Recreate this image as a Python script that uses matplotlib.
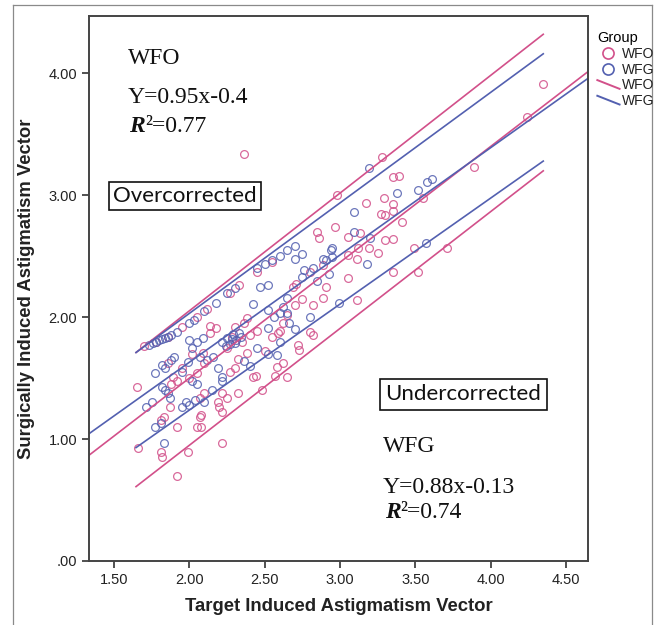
import matplotlib
matplotlib.use("Agg")
import matplotlib.pyplot as plt
from matplotlib.lines import Line2D
from matplotlib.legend_handler import HandlerBase
from matplotlib import font_manager
import numpy as np

# ---------------- data ----------------
wfo_x = [2.36, 4.35, 4.24, 3.89, 3.28, 3.35, 3.39, 3.55, 2.98, 3.17, 3.29, 3.35,
         3.27, 3.30, 3.35, 3.41, 2.85, 2.86, 2.97, 3.05, 3.13, 3.30, 3.35, 3.49,
         3.12, 3.19, 3.11, 3.25, 3.05, 2.89, 2.80, 3.05, 3.35, 2.91, 2.89, 3.11,
         2.82, 2.69, 2.71, 2.80, 2.82, 2.72, 2.60, 3.71, 3.52,
         1.65, 1.89, 1.92, 1.87, 1.81, 1.83, 1.92, 1.66, 1.81, 1.82, 1.92, 1.99,
         2.05, 2.08, 2.07, 2.10, 2.05, 2.02, 2.09, 2.14, 2.18, 2.14, 2.32, 2.38,
         2.42, 2.22, 2.25, 2.19, 2.20, 2.22, 2.32, 2.22, 2.07, 2.08, 2.36, 2.38,
         2.45, 2.55, 2.59, 2.62, 2.58, 2.62, 2.57, 2.65, 2.48,
         1.70, 1.78, 1.86, 1.95, 2.05, 2.12, 2.27, 2.33, 2.45, 2.55,
         1.86, 1.88, 1.95, 2.00, 2.10, 2.25, 2.28, 2.30, 2.35, 2.40, 2.30, 2.27,
         2.50, 2.65, 2.70, 2.75, 2.73, 2.44]
wfo_y = [3.34, 3.91, 3.64, 3.23, 3.31, 3.15, 3.16, 2.98, 3.00, 2.94, 2.98, 2.93,
         2.85, 2.84, 2.87, 2.78, 2.70, 2.65, 2.74, 2.66, 2.69, 2.63, 2.64, 2.57,
         2.57, 2.57, 2.48, 2.53, 2.51, 2.43, 2.37, 2.32, 2.37, 2.25, 2.16, 2.14,
         2.10, 2.25, 2.27, 1.88, 1.85, 1.77, 1.89, 2.57, 2.37,
         1.43, 1.51, 1.48, 1.26, 1.16, 1.18, 1.10, 0.93, 0.89, 0.85, 0.70, 0.89,
         1.10, 1.20, 1.34, 1.38, 1.54, 1.70, 1.71, 1.93, 1.91, 1.87, 1.66, 1.71,
         1.51, 1.38, 1.34, 1.30, 1.26, 1.22, 1.38, 0.97, 1.18, 1.10, 1.95, 1.99,
         1.89, 1.84, 1.87, 1.95, 1.59, 1.62, 1.52, 1.51, 1.40,
         1.76, 1.80, 1.84, 1.92, 2.00, 2.07, 2.20, 2.26, 2.37, 2.45,
         1.62, 1.45, 1.58, 1.50, 1.62, 1.75, 1.84, 1.92, 1.80, 1.85, 1.58, 1.55,
         1.72, 2.02, 2.10, 2.15, 1.73, 1.52]

wfg_x = [3.19, 3.58, 3.61, 3.52, 3.38, 3.09, 3.09, 3.20, 3.57, 2.95, 2.94, 2.75,
         2.70, 3.18, 2.89, 2.91, 2.95, 2.82, 2.76, 2.75, 2.99, 2.65, 2.62, 2.65,
         2.66,
         1.82, 1.84, 1.88, 1.90, 1.77, 1.82, 1.84, 1.87, 1.86, 1.71, 1.75, 1.77,
         1.81, 1.83, 1.95, 1.98, 2.00, 2.04, 2.02, 1.99, 2.07, 2.12, 2.00, 2.05,
         2.09, 2.02, 2.16, 2.19, 2.22, 2.22,
         2.22, 2.25, 2.27, 2.29, 2.31, 2.33, 2.24, 2.28, 2.30, 2.34, 2.36,
         2.42, 2.47, 2.52, 2.52, 2.56, 2.60, 2.52, 2.52, 2.58,
         1.73, 1.76, 1.78, 1.80, 1.82, 1.84, 1.86, 1.88, 1.92, 2.00, 2.03, 2.10,
         2.18, 2.25, 2.30, 2.45, 2.50, 2.55, 2.60, 2.65, 2.70,
         1.95, 2.05, 2.15, 2.10, 2.40, 2.45, 2.60, 2.70, 2.80, 2.85, 2.93]
wfg_y = [3.22, 3.11, 3.13, 3.04, 3.02, 2.86, 2.70, 2.65, 2.61, 2.57, 2.55, 2.52,
         2.48, 2.44, 2.48, 2.47, 2.49, 2.40, 2.39, 2.33, 2.12, 2.16, 2.08, 2.03,
         1.95,
         1.61, 1.58, 1.65, 1.67, 1.54, 1.43, 1.40, 1.34, 1.38, 1.26, 1.30, 1.10,
         1.13, 0.97, 1.26, 1.30, 1.28, 1.32, 1.48, 1.63, 1.67, 1.65, 1.81, 1.80,
         1.83, 1.75, 1.67, 1.58, 1.51, 1.48,
         1.80, 1.83, 1.78, 1.86, 1.81, 1.87, 1.76, 1.82, 1.79, 1.84, 1.64,
         2.11, 2.25, 2.26, 2.06, 2.00, 2.03, 1.91, 1.70, 1.69,
         1.77, 1.79, 1.80, 1.81, 1.82, 1.83, 1.84, 1.85, 1.88, 1.95, 1.98, 2.05,
         2.12, 2.20, 2.24, 2.40, 2.44, 2.47, 2.50, 2.55, 2.58,
         1.55, 1.45, 1.40, 1.30, 1.60, 1.75, 1.80, 1.90, 2.00, 2.30, 2.35]

# fit lines: slope, intercept
wfo_fit = (0.95, -0.40)
wfg_fit = (0.88, -0.13)
# interval lines (x ends, y ends)
band_x = [1.646, 4.349]
wfo_upper = [1.71, 4.32]
wfo_lower = [0.61, 3.20]
wfg_upper = [1.71, 4.16]
wfg_lower = [0.93, 3.28]

x_ticks = [1.5, 2.0, 2.5, 3.0, 3.5, 4.0, 4.5]
y_ticks = [0, 1, 2, 3, 4]

PINK = "#D2508A"
BLUE = "#5360B0"

# ---------------- fonts ----------------
def has_font(name):
    try:
        font_manager.findfont(font_manager.FontProperties(family=name), fallback_to_default=False)
        return True
    except Exception:
        return False

NARROW = "Liberation Sans Narrow" if has_font("Liberation Sans Narrow") else "Liberation Sans"
SERIF = "Liberation Serif"
BOXF = "Lato"

W, H = 661, 625
fig = plt.figure(figsize=(W / 100, H / 100), dpi=100)
ax = fig.add_axes([89 / W, 1 - 561 / H, (588 - 89) / W, (561 - 16) / H])
ax.set_xlim(1.334, 4.646)
ax.set_ylim(0, 4.47)

ms = 5.6
ax.plot(wfo_x, wfo_y, ls="none", marker="o", ms=ms, mfc="none", mec=PINK, mew=0.9, alpha=0.85)
ax.plot(wfg_x, wfg_y, ls="none", marker="o", ms=ms, mfc="none", mec=BLUE, mew=0.9, alpha=0.85)

lw = 1.2
ax.axline((0, wfo_fit[1]), slope=wfo_fit[0], color=PINK, lw=lw)
ax.axline((0, wfg_fit[1]), slope=wfg_fit[0], color=BLUE, lw=lw)
ax.plot(band_x, wfo_upper, color=PINK, lw=lw)
ax.plot(band_x, wfo_lower, color=PINK, lw=lw)
ax.plot(band_x, wfg_upper, color=BLUE, lw=lw)
ax.plot(band_x, wfg_lower, color=BLUE, lw=lw)

# ticks / spines
ax.set_xticks(x_ticks)
ax.set_xticklabels([f"{v:.2f}" for v in x_ticks])
ax.set_yticks(y_ticks)
ax.set_yticklabels([f"{v:.2f}".lstrip("0") if v == 0 else f"{v:.2f}" for v in y_ticks])
ax.tick_params(direction="out", length=5, width=1.2, color="#333333", labelsize=10.5,
               labelcolor="#222222")
for lab in ax.get_xticklabels() + ax.get_yticklabels():
    lab.set_family(NARROW)
for sp in ax.spines.values():
    sp.set_linewidth(1.4)
    sp.set_color("#444444")

ax.set_xlabel("Target Induced Astigmatism Vector", family=NARROW, fontweight="bold",
              fontsize=13.3, color="#222222", labelpad=8)
ax.set_ylabel("Surgically Induced Astigmatism Vector", family=NARROW, fontweight="bold",
              fontsize=13.3, color="#222222", labelpad=10)

# annotations
def eq_block(x, y_name, y_eq, y_r2, name, eq, r2):
    ax.text(x, y_name, name, family=SERIF, fontsize=17, va="baseline", ha="left", color="#111111")
    ax.text(x, y_eq, eq, family=SERIF, fontsize=17, va="baseline", ha="left", color="#111111")
    r = ax.text(x + 0.01, y_r2, "R", family=SERIF, fontsize=17, fontweight="bold",
                style="italic", va="baseline", ha="left", color="#111111")
    ax.annotate("²=" + r2, xy=(1, 0), xycoords=r, family=SERIF, fontsize=17,
                va="bottom", ha="left", color="#111111")

eq_block(1.59, 4.08, 3.755, 3.52, "WFO", "Y=0.95x-0.4", "0.77")
eq_block(3.286, 0.89, 0.557, 0.352, "WFG", "Y=0.88x-0.13", "0.74")

box = dict(boxstyle="square,pad=0.18", fc="white", ec="#111111", lw=1.2)
ax.text(1.971, 2.99, "Overcorrected", family=BOXF, fontsize=16, ha="center", va="center",
        color="#111111", bbox=box)
ax.text(3.817, 1.369, "Undercorrected", family=BOXF, fontsize=16, ha="center", va="center",
        color="#111111", bbox=dict(boxstyle="square,pad=0.25", fc="white", ec="#111111", lw=1.2))

# legend
class DiagHandler(HandlerBase):
    def create_artists(self, legend, orig_handle, xdescent, ydescent, width, height, fontsize, trans):
        ln = Line2D([-xdescent, -xdescent + width], [-ydescent + height * 0.95, -ydescent + height * 0.05],
                    color=orig_handle.get_color(), lw=orig_handle.get_linewidth(), transform=trans)
        return [ln]

h1 = Line2D([], [], ls="none", marker="o", ms=8, mfc="none", mec=PINK, mew=1.2)
h2 = Line2D([], [], ls="none", marker="o", ms=8, mfc="none", mec=BLUE, mew=1.2)
h3 = Line2D([], [], color=PINK, lw=1.4)
h4 = Line2D([], [], color=BLUE, lw=1.4)
leg = fig.legend([h1, h2, h3, h4], ["WFO", "WFG", "WFO", "WFG"], title="Group",
                 loc="upper left", bbox_to_anchor=(589 / W, 1 - 23 / H), frameon=False,
                 handlelength=1.6, handletextpad=0.2, labelspacing=0.12, borderpad=0.1,
                 handler_map={h3: DiagHandler(), h4: DiagHandler()},
                 prop={"family": "Liberation Sans", "size": 10}, title_fontproperties={"family": "Liberation Sans", "size": 10.5})
leg._legend_box.align = "left"
for t in leg.get_texts():
    t.set_color("#222222")

# outer frame
fc = "#8a8a8a"
fig.add_artist(Line2D([13 / W, 13 / W], [0, 1 - 5 / H], transform=fig.transFigure, color=fc, lw=0.9))
fig.add_artist(Line2D([652 / W, 652 / W], [0, 1 - 5 / H], transform=fig.transFigure, color=fc, lw=0.9))
fig.add_artist(Line2D([13 / W, 652 / W], [1 - 5 / H, 1 - 5 / H], transform=fig.transFigure, color=fc, lw=0.9))

fig.savefig("out.png", dpi=100)
